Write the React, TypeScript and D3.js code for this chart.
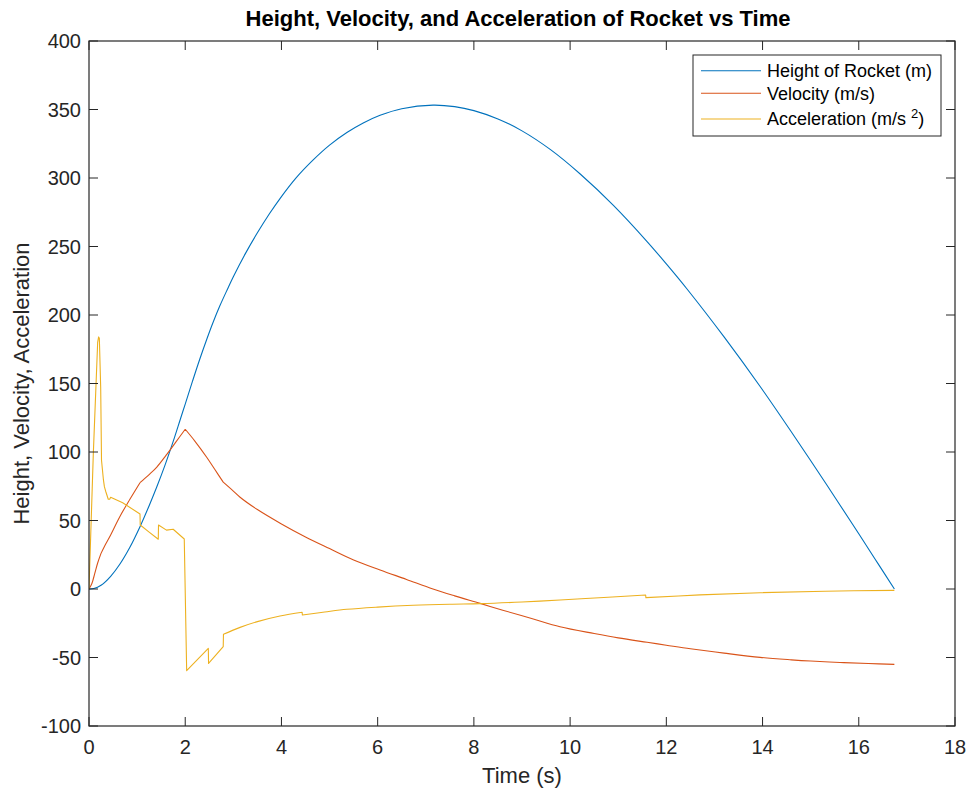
import React from 'react';
import * as d3 from 'd3';

// ---- data ----
const heightTime = [0, 0.1, 0.25, 0.45, 0.64, 0.85, 1.06, 1.25, 1.41, 1.58, 1.75, 1.9, 2.0, 2.15, 2.3, 2.45, 2.58, 2.72, 2.88, 3.0, 3.25, 3.5, 3.75, 3.97, 4.3, 4.66, 5.0, 5.36, 5.7, 6.05, 6.5, 7.15, 7.6, 8.0, 8.5, 9.0, 9.6, 10.21, 10.9, 11.6, 12.0, 12.43, 13.2, 13.95, 14.6, 15.34, 16.0, 16.4, 16.74];
const heightValues = [0, 0.3, 2.7, 9.3, 18.1, 30.5, 45.5, 60.8, 74.6, 90.4, 107.7, 124.1, 135, 151.5, 167.5, 182.5, 194.7, 206.7, 219, 227.9, 244.8, 260, 273.9, 285, 299.9, 313.2, 324, 333.2, 340.2, 345.8, 350.6, 353.2, 352.1, 349.2, 343.1, 334.4, 320.5, 302.9, 280, 253.6, 237.3, 219, 184, 147.8, 114.6, 75.7, 40.3, 18.5, 0];

const velocityTime = [0, 0.06, 0.12, 0.18, 0.25, 0.35, 0.45, 0.64, 0.85, 1.06, 1.25, 1.41, 1.6, 1.8, 2.0, 2.2, 2.45, 2.62, 2.79, 3.0, 3.14, 3.5, 4.0, 4.5, 5.0, 5.5, 6.05, 6.6, 7.15, 7.6, 8.13, 8.6, 9.2, 9.79, 10.5, 11.0, 11.6, 12.0, 12.5, 13.2, 13.95, 14.6, 15.0, 15.61, 16.2, 16.74];
const velocityValues = [0, 4, 11.4, 19, 26, 33, 39.5, 52.8, 65.5, 77.6, 83.5, 89, 97.5, 107, 116.6, 108, 96, 87, 78, 71.5, 67, 58, 47.5, 38, 29.5, 21.2, 13.9, 7, 0, -5, -10.5, -15.5, -21.5, -27.5, -32.5, -35.7, -38.9, -41, -43.6, -46.8, -49.9, -51.7, -52.6, -53.6, -54.4, -55];
const velocityKinks = [0.25, 1.06, 2.0, 2.79];

const accelTime = [0, 0.09, 0.18, 0.2, 0.215, 0.243, 0.26, 0.3, 0.32, 0.33, 0.35, 0.4, 0.43, 0.45, 0.7, 1.06, 1.065, 1.25, 1.44, 1.445, 1.61, 1.75, 1.98, 2.03, 2.48, 2.485, 2.79, 2.795, 3.14, 3.5, 3.97, 4.43, 4.435, 4.9, 5.36, 6.0, 6.74, 7.5, 8.13, 9.0, 9.79, 10.7, 11.57, 11.575, 12.7, 13.95, 15.3, 16.74];
const accelValues = [0, 99, 180, 184, 183, 147, 94, 79.6, 74.7, 73.5, 71, 65.5, 65.5, 67, 63, 54.7, 46.7, 41.5, 36.3, 46.7, 43, 43.6, 36.5, -59.6, -43.3, -54.3, -42, -33, -28, -23.8, -19.7, -17, -19, -16.8, -14.8, -13.2, -11.9, -11.1, -10.7, -9.5, -8.0, -6.2, -4.4, -6.3, -4.3, -2.7, -1.6, -1];
const accelSmoothFrom = 2.795;
const accelBreaks = [4.43, 11.57];

const xTicks = [0, 2, 4, 6, 8, 10, 12, 14, 16, 18];
const yTicks = [-100, -50, 0, 50, 100, 150, 200, 250, 300, 350, 400];

const seriesNames = ['Height of Rocket (m)', 'Velocity (m/s)', 'Acceleration (m/s'];
const seriesColors = ['#0072BD', '#D95319', '#EDB120'];

const titleText = 'Height, Velocity, and Acceleration of Rocket vs Time';
const xLabel = 'Time (s)';
const yLabel = 'Height, Velocity, Acceleration';

const W = 970;
const H = 788;
const left = 89;
const right = 955;
const top = 41;
const bottom = 726;
const axisColor = '#262626';
const font = '"Liberation Sans", Arial, Helvetica, sans-serif';

type Pt = [number, number];

function splitAt(pts: Pt[], breaks: number[]): Pt[][] {
  const segs: Pt[][] = [];
  let cur: Pt[] = [];
  pts.forEach((p) => {
    cur.push(p);
    if (breaks.includes(p[0])) {
      segs.push(cur);
      cur = [p];
    }
  });
  if (cur.length > 1) segs.push(cur);
  return segs;
}

export default function App() {
  const x = d3.scaleLinear().domain([0, 18]).range([left, right]);
  const y = d3.scaleLinear().domain([-100, 400]).range([bottom, top]);
  const smooth = d3
    .line<Pt>()
    .x((d) => x(d[0]))
    .y((d) => y(d[1]))
    .curve(d3.curveCatmullRom.alpha(0.5));
  const straight = d3
    .line<Pt>()
    .x((d) => x(d[0]))
    .y((d) => y(d[1]));

  const heightPts = d3.zip(heightTime, heightValues) as Pt[];
  const velPts = d3.zip(velocityTime, velocityValues) as Pt[];
  const accPts = d3.zip(accelTime, accelValues) as Pt[];

  const heightPath = smooth(heightPts) || '';
  const velPath = splitAt(velPts, velocityKinks)
    .map((s) => smooth(s) || '')
    .join('');

  const accEarly = accPts.filter((p) => p[0] <= accelSmoothFrom);
  const accLate = accPts.filter((p) => p[0] >= accelSmoothFrom);
  const lateSegs: Pt[][] = [];
  let cur: Pt[] = [];
  accLate.forEach((p, i) => {
    cur.push(p);
    const nxt = accLate[i + 1];
    if (nxt && accelBreaks.includes(p[0])) {
      lateSegs.push(cur);
      cur = [];
    }
  });
  if (cur.length) lateSegs.push(cur);
  const accPath =
    (straight(accEarly) || '') +
    lateSegs
      .map((s, i) => {
        if (i === 0) return (smooth(s) || '').replace(/^M/, 'L');
        const first = s[0];
        return 'L' + x(first[0]) + ',' + y(first[1]) + (smooth(s) || '').replace(/^M[^A-Za-z]*/, '');
      })
      .join('');

  const paths = [heightPath, velPath, accPath];

  const tickLen = 9;
  const legX = 693;
  const legY = 55;
  const legW = 248;
  const legH = 81;
  const rowY = [70.7, 93.3, 119];

  return (
    <svg
      width={W}
      height={H}
      style={{ position: 'absolute', left: 0, top: 0, display: 'block', background: '#fff' }}
      fontFamily={font}
    >
      <rect x={0} y={0} width={W} height={H} fill="#fff" />

      <defs>
        <clipPath id="plotclip">
          <rect x={left} y={top} width={right - left} height={bottom - top} />
        </clipPath>
      </defs>

      <g clipPath="url(#plotclip)">
        {paths.map((d, i) => (
          <path key={i} d={d} fill="none" stroke={seriesColors[i]} strokeWidth={1.1} strokeLinejoin="round" />
        ))}
      </g>

      {/* axes box */}
      <rect
        x={left}
        y={top}
        width={right - left}
        height={bottom - top}
        fill="none"
        stroke={axisColor}
        strokeWidth={1.2}
      />

      {/* x ticks */}
      {xTicks.map((t) => (
        <g key={'xt' + t}>
          <line x1={x(t)} x2={x(t)} y1={bottom} y2={bottom - tickLen} stroke={axisColor} strokeWidth={1} />
          <line x1={x(t)} x2={x(t)} y1={top} y2={top + tickLen} stroke={axisColor} strokeWidth={1} />
          <text x={x(t)} y={754} textAnchor="middle" fontSize={20} fill={axisColor}>
            {t}
          </text>
        </g>
      ))}

      {/* y ticks */}
      {yTicks.map((t) => (
        <g key={'yt' + t}>
          <line x1={left} x2={left + tickLen} y1={y(t)} y2={y(t)} stroke={axisColor} strokeWidth={1} />
          <line x1={right} x2={right - tickLen} y1={y(t)} y2={y(t)} stroke={axisColor} strokeWidth={1} />
          <text x={81} y={y(t)} dy="0.36em" textAnchor="end" fontSize={20} fill={axisColor}>
            {t}
          </text>
        </g>
      ))}

      {/* labels */}
      <text x={(left + right) / 2} y={783} textAnchor="middle" fontSize={22} fill={axisColor}>
        {xLabel}
      </text>
      <text
        transform={`translate(29, ${(top + bottom) / 2}) rotate(-90)`}
        textAnchor="middle"
        fontSize={22}
        fill={axisColor}
      >
        {yLabel}
      </text>
      <text x={(left + right) / 2 - 4} y={26} textAnchor="middle" fontSize={22} fontWeight="bold" fill="#000">
        {titleText}
      </text>

      {/* legend */}
      <rect x={legX} y={legY} width={legW} height={legH} fill="#fff" stroke={axisColor} strokeWidth={1} />
      {seriesNames.map((n, i) => (
        <g key={'lg' + i}>
          <line x1={701} x2={761} y1={rowY[i]} y2={rowY[i]} stroke={seriesColors[i]} strokeWidth={1.1} />
          <text x={767} y={rowY[i]} dy="0.36em" fontSize={18} fill="#000">
            {n}
            {i === 2 ? (
              <>
                <tspan> </tspan>
                <tspan fontSize={13} dy="-7">2</tspan>
                <tspan dy="7">)</tspan>
              </>
            ) : null}
          </text>
        </g>
      ))}
    </svg>
  );
}
